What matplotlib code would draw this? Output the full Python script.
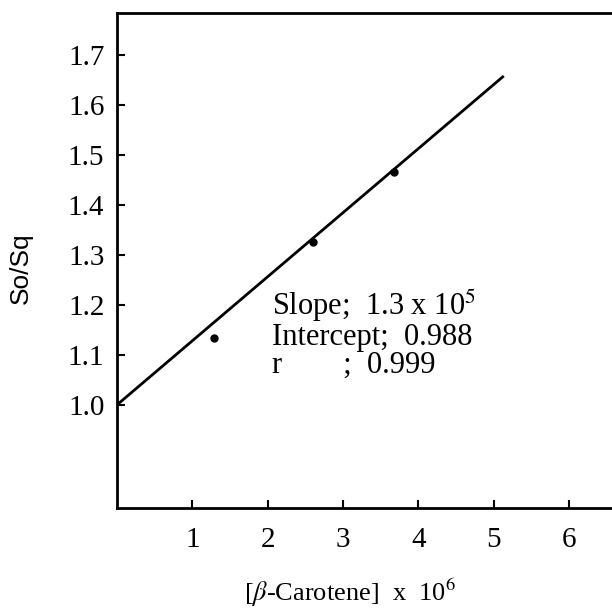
import matplotlib
matplotlib.use("Agg")
from matplotlib import pyplot as plt

# measured points
carotene = [1.29, 2.60, 3.68]
so_sq = [1.134, 1.326, 1.465]

# regression line as drawn
fit_x = [0.0, 5.12]
fit_y = [1.0, 1.656]

x_ticks = [1, 2, 3, 4, 5, 6]
y_ticks = [1.0, 1.1, 1.2, 1.3, 1.4, 1.5, 1.6, 1.7]

plt.rcParams["font.family"] = ["Liberation Serif", "DejaVu Serif"]
plt.rcParams["mathtext.fontset"] = "stix"

fig = plt.figure(figsize=(6.12, 6.12), dpi=100)
ax = fig.add_axes([0.191, 0.170, 0.809, 0.809])

ax.plot(fit_x, fit_y, color="black", linewidth=2.0)
ax.plot(carotene, so_sq, "o", color="black", markersize=5)

ax.set_xlim(0, 6.57)
ax.set_ylim(0.794, 1.784)
ax.set_xticks(x_ticks)
ax.set_yticks(y_ticks)
ax.set_yticklabels([f"{v:.1f}" for v in y_ticks])
ax.tick_params(axis="both", direction="in", length=6, width=1.5, labelsize=21)
ax.tick_params(axis="x", pad=14)
ax.tick_params(axis="y", pad=9)

for side in ["left", "bottom", "top"]:
    ax.spines[side].set_linewidth(2.0)
ax.spines["right"].set_visible(False)

ax.set_ylabel("So/Sq", fontsize=19, family=["Liberation Sans", "DejaVu Sans"])
ax.yaxis.set_label_coords(-0.17, 0.485)
ax.set_xlabel(r"[$\beta$-Carotene]  x  10$^6$", fontsize=19)
ax.xaxis.set_label_coords(0.47, -0.14)

ax.text(2.06, 1.18, "Slope;  1.3 x 10$^5$", fontsize=22)
ax.text(2.06, 1.12, "Intercept;  0.988", fontsize=22)
ax.text(2.06, 1.064, "r        ;  0.999", fontsize=22)

fig.savefig("out.png", dpi=100)
